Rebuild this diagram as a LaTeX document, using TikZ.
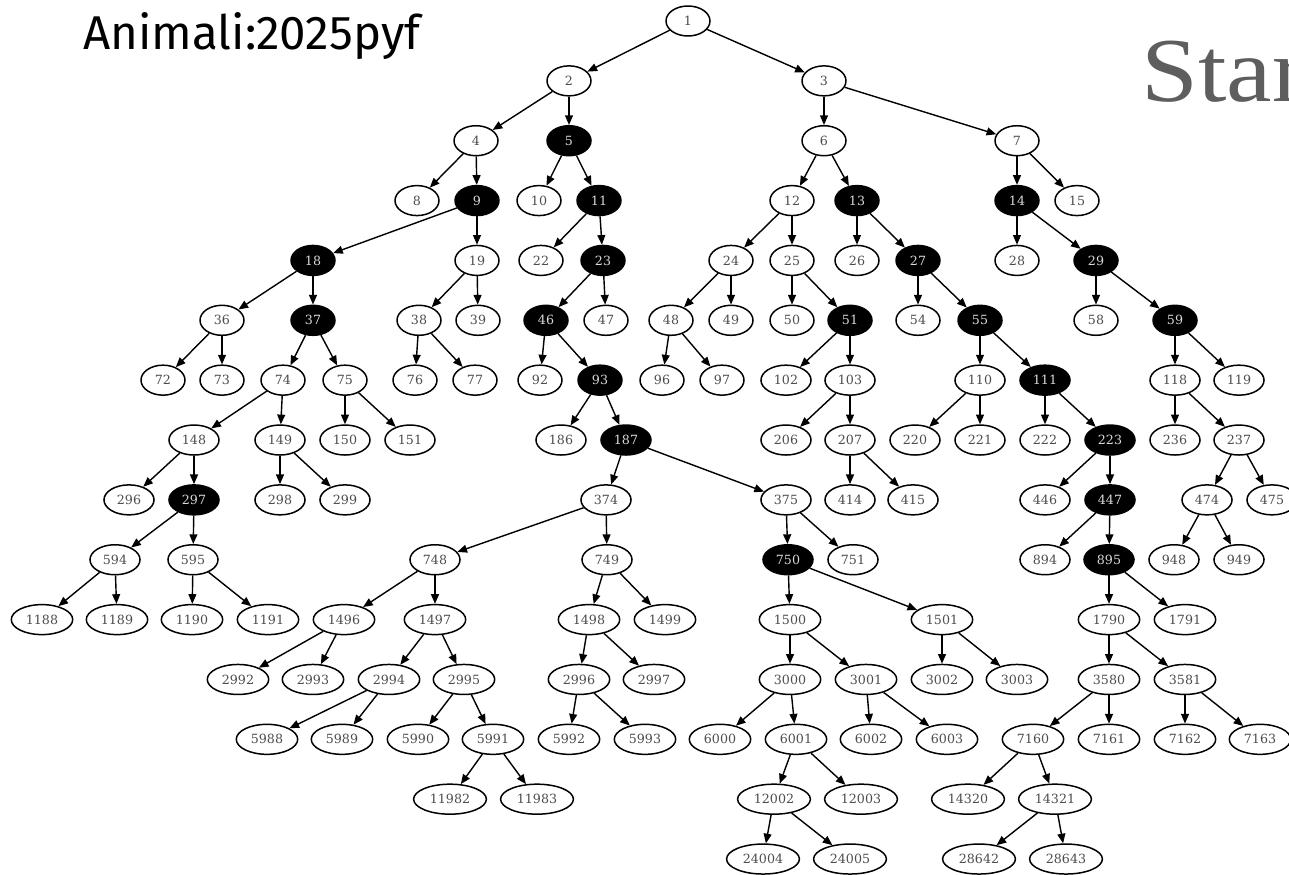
\documentclass[tikz,border=0pt]{standalone}
\usepackage{fontspec}
\usepackage{tikz}
\usetikzlibrary{shapes.geometric, arrows.meta}

\newfontfamily\graphfont{DejaVu Serif}
\newfontfamily\titlefont{Fira Sans}
\newfontfamily\bannerfont[FakeStretch=1.12]{Liberation Serif}
\definecolor{bannergray}{RGB}{94,94,94}

% label / x position / row / style
\def\treenodes{1/688/0/vtx,
  2/569/1/vtx, 3/824/1/vtx,
  4/476/2/vtx, 5/569/2/hit, 6/824/2/vtx, 7/1017/2/vtx,
  8/417/3/vtx, 9/477/3/hit, 10/539/3/vtx, 11/599/3/hit, 12/792/3/vtx, 13/857/3/hit, 14/1017/3/hit, 15/1077/3/vtx,
  18/313/4/hit, 19/477/4/vtx, 22/541/4/vtx, 23/603/4/hit, 24/731/4/vtx, 25/792/4/vtx, 26/857/4/vtx, 27/918/4/hit, 28/1017/4/vtx, 29/1096/4/hit,
  36/222/5/vtx, 37/313/5/hit, 38/419/5/vtx, 39/478/5/vtx, 46/546/5/hit, 47/606/5/vtx, 48/671/5/vtx, 49/731/5/vtx, 50/792/5/vtx, 51/850/5/hit, 54/918/5/vtx, 55/980/5/hit, 58/1096/5/vtx, 59/1175/5/hit,
  72/163/6/vtx, 73/222/6/vtx, 74/283/6/vtx, 75/345/6/vtx, 76/415/6/vtx, 77/475/6/vtx, 92/540/6/vtx, 93/600/6/hit, 96/662/6/vtx, 97/722/6/vtx, 102/786/6/vtx, 103/850/6/vtx, 110/980/6/vtx, 111/1045/6/hit, 118/1175/6/vtx, 119/1239/6/vtx,
  148/194/7/vtx, 149/280/7/vtx, 150/345/7/vtx, 151/410/7/vtx, 186/561/7/vtx, 187/626/7/hit, 206/786/7/vtx, 207/850/7/vtx, 220/915/7/vtx, 221/980/7/vtx, 222/1045/7/vtx, 223/1110/7/hit, 236/1175/7/vtx, 237/1239/7/vtx,
  296/129/8/vtx, 297/194/8/hit, 298/280/8/vtx, 299/345/8/vtx, 374/606/8/vtx, 375/786/8/vtx, 414/850/8/vtx, 415/913/8/vtx, 446/1045/8/vtx, 447/1110/8/hit, 474/1207/8/vtx, 475/1272/8/vtx,
  594/115/9/vtx, 595/193/9/vtx, 748/435/9/vtx, 749/607/9/vtx, 750/788/9/hit, 751/853/9/vtx, 894/1045/9/vtx, 895/1109/9/hit, 948/1174/9/vtx, 949/1239/9/vtx,
  1188/42/10/vtx, 1189/117/10/vtx, 1190/192/10/vtx, 1191/268/10/vtx, 1496/344/10/vtx, 1497/435/10/vtx, 1498/589/10/vtx, 1499/665/10/vtx, 1500/790/10/vtx, 1501/942/10/vtx, 1790/1109/10/vtx, 1791/1185/10/vtx,
  2992/238/11/vtx, 2993/313/11/vtx, 2994/389/11/vtx, 2995/464/11/vtx, 2996/579/11/vtx, 2997/654/11/vtx, 3000/790/11/vtx, 3001/866/11/vtx, 3002/942/11/vtx, 3003/1017/11/vtx, 3580/1109/11/vtx, 3581/1185/11/vtx,
  5988/267/12/vtx, 5989/342/12/vtx, 5990/418/12/vtx, 5991/493/12/vtx, 5992/569/12/vtx, 5993/645/12/vtx, 6000/720/12/vtx, 6001/796/12/vtx, 6002/871/12/vtx, 6003/947/12/vtx, 7160/1033/12/vtx, 7161/1109/12/vtx, 7162/1185/12/vtx, 7163/1260/12/vtx,
  11982/450/13/vtx, 11983/537/13/vtx, 12002/774/13/vtx, 12003/861/13/vtx, 14320/968/13/vtx, 14321/1055/13/vtx,
  24004/763/14/vtx, 24005/850/14/vtx, 28642/979/14/vtx, 28643/1066/14/vtx}

\begin{document}
\begin{tikzpicture}[x=0.02cm, y=-0.02cm, >={Triangle[length=5.5pt, width=4.5pt]},
    vtx/.style={ellipse, draw=black, line width=0.85pt, fill=white, text=black!70,
        minimum width=0.88cm, minimum height=0.6cm, inner xsep=3.2pt, inner ysep=1pt,
        font={\graphfont\fontsize{7.2pt}{8pt}\selectfont}},
    hit/.style={vtx, fill=black, text=white!85!black},
    link/.style={->, line width=0.8pt, black}]
    \useasboundingbox (0,0) rectangle (1289,875);

    % Headings
    \node[anchor=base west, inner sep=0pt, font={\titlefont\fontsize{27pt}{30pt}\selectfont}] (title) at (83,50) {Animali:2025pyf};
    \node[anchor=base west, inner sep=0pt, text=bannergray, font={\bannerfont\fontsize{52pt}{56pt}\selectfont}] (banner) at (1141,102) {Star};

    % Tree nodes, one row every 60 px
    \foreach \k/\x/\r/\s in \treenodes {
        \node[\s] (n\k) at (\x, {21+59.86*\r}) {\k};
    }

    % Parent of k is k/2 (integer arithmetic, labels go past 16383)
    \foreach \k/\x/\r/\s in \treenodes {
        \ifnum\k>1
            \edef\pk{\the\numexpr(\k-1)/2\relax}
            \draw[link] (n\pk) -- (n\k);
        \fi
    }
\end{tikzpicture}
\end{document}
